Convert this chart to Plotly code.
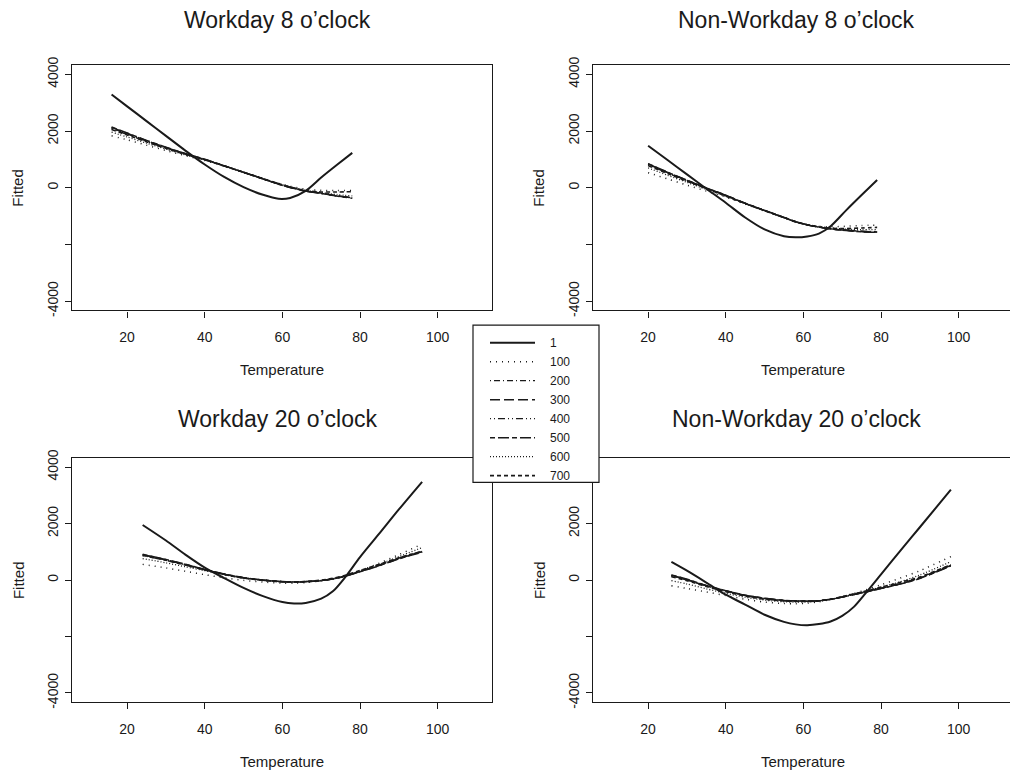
import plotly.graph_objects as go

# ---------------------------------------------------------------------------
# Data: fitted load vs. temperature, one curve per iteration count
# ---------------------------------------------------------------------------
SERIES = ["1", "100", "200", "300", "400", "500", "600", "700"]

PANEL_TITLES = [
    "Workday 8 o\u2019clock",
    "Non-Workday 8 o\u2019clock",
    "Workday 20 o\u2019clock",
    "Non-Workday 20 o\u2019clock",
]

Y_TICKS = [-4000, -2000, 0, 2000, 4000]
Y_TICK_TEXT = ["-4000", "", "0", "2000", "4000"]
X_TICKS = [20, 40, 60, 80, 100]

# Workday, 8 o'clock
wd8_temp = [16, 20, 25, 30, 35, 40, 45, 50, 55, 59, 62, 66, 70, 74, 78]
wd8_fit = [
    [3290, 2870, 2350, 1830, 1310, 820, 380, 20, -250, -390, -360, -110, 360, 800, 1230],
    [1830, 1690, 1500, 1310, 1130, 960, 760, 540, 320, 150, 50, -50, -90, -100, -100],
    [2100, 1900, 1650, 1410, 1190, 990, 770, 545, 315, 135, 15, -115, -200, -290, -360],
    [2130, 1920, 1660, 1420, 1200, 1000, 770, 540, 310, 130, 10, -120, -190, -280, -350],
    [2080, 1880, 1630, 1400, 1180, 985, 765, 540, 315, 140, 20, -110, -195, -285, -355],
    [2140, 1930, 1670, 1430, 1205, 1005, 775, 545, 310, 125, 5, -125, -200, -295, -370],
    [1960, 1790, 1570, 1360, 1160, 980, 770, 550, 330, 150, 30, -95, -170, -240, -290],
    [2050, 1860, 1620, 1390, 1180, 990, 770, 545, 320, 140, 25, -100, -150, -150, -140],
]

# Non-workday, 8 o'clock
nwd8_temp = [20, 25, 30, 35, 40, 45, 50, 55, 58, 61, 64, 67, 71, 75, 79]
nwd8_fit = [
    [1480, 975, 470, -35, -530, -1050, -1470, -1710, -1750, -1720, -1620, -1360, -800, -260, 270],
    [530, 310, 90, -120, -330, -580, -820, -1060, -1200, -1300, -1360, -1380, -1360, -1330, -1320],
    [830, 535, 255, -15, -275, -555, -805, -1050, -1200, -1310, -1395, -1455, -1505, -1545, -1565],
    [840, 540, 260, -10, -270, -550, -800, -1050, -1200, -1310, -1390, -1450, -1500, -1540, -1560],
    [810, 520, 245, -20, -280, -555, -805, -1055, -1205, -1315, -1390, -1445, -1490, -1530, -1550],
    [850, 550, 265, -5, -265, -545, -800, -1045, -1195, -1305, -1390, -1455, -1510, -1555, -1575],
    [700, 440, 190, -60, -300, -560, -810, -1060, -1200, -1300, -1370, -1420, -1460, -1480, -1480],
    [780, 500, 230, -30, -290, -560, -810, -1055, -1205, -1310, -1385, -1430, -1440, -1420, -1400],
]

# Workday, 20 o'clock
wd20_temp = [24, 30, 35, 40, 45, 50, 55, 60, 63, 66, 70, 73, 76, 80, 85, 90, 96]
wd20_fit = [
    [1950, 1400, 900, 440, 70, -280, -570, -780, -830, -810, -660, -400, 70, 810, 1650, 2500, 3480],
    [555, 430, 310, 190, 80, -10, -70, -110, -110, -90, -30, 40, 140, 330, 600, 900, 1270],
    [890, 710, 545, 365, 205, 75, -5, -60, -70, -60, -20, 45, 135, 305, 525, 765, 1010],
    [900, 720, 550, 370, 210, 80, 0, -60, -70, -60, -20, 40, 130, 300, 520, 760, 1000],
    [870, 700, 535, 360, 205, 80, 0, -55, -65, -55, -15, 45, 140, 310, 530, 775, 1020],
    [910, 730, 560, 375, 215, 85, 5, -55, -65, -55, -20, 40, 125, 290, 510, 750, 985],
    [760, 610, 470, 330, 190, 70, -10, -70, -80, -65, -20, 45, 140, 320, 560, 830, 1150],
    [870, 700, 530, 360, 200, 70, -10, -60, -65, -50, 0, 60, 160, 340, 560, 790, 1020],
]

# Non-workday, 20 o'clock
nwd20_temp = [26, 30, 35, 40, 45, 50, 55, 58, 61, 64, 67, 70, 73, 76, 80, 85, 90, 98]
nwd20_fit = [
    [640, 330, -90, -520, -870, -1230, -1480, -1570, -1600, -1560, -1470, -1270, -950, -470, 200, 1040, 1870, 3200],
    [-200, -300, -420, -550, -680, -780, -830, -840, -820, -770, -690, -590, -470, -350, -170, 70, 330, 830],
    [160, 10, -205, -385, -545, -655, -725, -745, -750, -735, -685, -605, -515, -425, -295, -135, 65, 510],
    [170, 20, -200, -380, -540, -650, -720, -740, -745, -730, -680, -600, -510, -420, -290, -130, 70, 520],
    [140, 0, -215, -390, -550, -660, -730, -750, -750, -735, -680, -600, -505, -410, -280, -115, 90, 545],
    [180, 30, -195, -375, -535, -645, -715, -735, -740, -730, -685, -605, -515, -430, -300, -140, 55, 500],
    [-20, -140, -310, -470, -610, -710, -770, -780, -770, -745, -690, -600, -500, -400, -250, -60, 180, 650],
    [120, -20, -230, -410, -570, -680, -740, -760, -760, -740, -680, -590, -490, -390, -250, -80, 110, 540],
]

PANELS = [
    (wd8_temp, wd8_fit),
    (nwd8_temp, nwd8_fit),
    (wd20_temp, wd20_fit),
    (nwd20_temp, nwd20_fit),
]

# ---------------------------------------------------------------------------
# Styling
# ---------------------------------------------------------------------------
W, H = 1010, 780
INK = "#1a1a1a"
FONT = "Liberation Sans, Arial, Helvetica, sans-serif"
NBSP = "\u00a0"

DASHES = [
    "solid",
    "1px,5px",
    "1px,3px,6px,3px",
    "10px,4px",
    "1px,3px,1px,3px,7px,3px",
    "5px,3px,11px,3px",
    "1px,2px",
    "4px,3px",
]
WIDTHS = [2.0, 1.5, 1.4, 1.5, 1.4, 1.5, 1.3, 1.6]


def fx(px):
    return px / W


def fy(px):
    return 1 - px / H


# panel boxes in pixels: (left, right, top, bottom); the right column runs
# off the page edge, so its box has no right-hand border
BOXES = [
    (72, 492, 58, 308),
    (593, 1010, 58, 308),
    (72, 492, 458, 707),
    (593, 1010, 458, 707),
]
PX_PER_DEG = 420 / 108.2
X_LO = 5.8
Y_RANGE = [-4330, 4330]

TITLE_POS = [(277, 12), (796, 12), (277, 419), (796, 419)]

# legend frame (pixels)
LEG_BOX = (473, 599, 323, 483)

fig = go.Figure()
layout = dict(
    width=W,
    height=H,
    margin=dict(l=0, r=0, t=0, b=0),
    paper_bgcolor="white",
    plot_bgcolor="white",
    font=dict(family=FONT, size=14, color=INK),
    showlegend=True,
    legend=dict(
        x=fx(LEG_BOX[0]),
        y=fy(LEG_BOX[2] + 3),
        xanchor="left",
        yanchor="top",
        bgcolor="rgba(0,0,0,0)",
        borderwidth=0,
        font=dict(family=FONT, size=12, color=INK),
        itemwidth=45,
        indentation=12,
        tracegroupgap=0,
    ),
    annotations=[],
    shapes=[
        dict(
            type="rect",
            xref="paper",
            yref="paper",
            x0=fx(LEG_BOX[0]),
            x1=fx(LEG_BOX[1]),
            y0=fy(LEG_BOX[3]),
            y1=fy(LEG_BOX[2]),
            fillcolor="white",
            line=dict(color=INK, width=1.2),
            layer="above",
        )
    ],
)

for i, ((temps, fits), box) in enumerate(zip(PANELS, BOXES)):
    n = i + 1
    xa = "x" if n == 1 else f"x{n}"
    ya = "y" if n == 1 else f"y{n}"
    left, right, top, bottom = box
    right_side = left > 500

    for k, name in enumerate(SERIES):
        fig.add_trace(
            go.Scatter(
                x=temps,
                y=fits[k],
                mode="lines",
                name=NBSP * 3 + name,
                legendgroup=name,
                showlegend=(i == 0),
                line=dict(color=INK, width=WIDTHS[k], dash=DASHES[k], shape="spline", smoothing=0.8),
                xaxis=xa,
                yaxis=ya,
                hoverinfo="skip",
            )
        )

    x_hi = X_LO + (right - left) / PX_PER_DEG
    axis_common = dict(
        showgrid=False,
        zeroline=False,
        showline=True,
        linecolor=INK,
        linewidth=1.2,
        ticks="outside",
        ticklen=6,
        tickwidth=1.2,
        tickcolor=INK,
        tickfont=dict(family=FONT, size=14, color=INK),
        fixedrange=True,
    )
    layout["xaxis" if n == 1 else f"xaxis{n}"] = dict(
        axis_common,
        domain=[fx(left), fx(right)],
        range=[X_LO, x_hi],
        tickvals=X_TICKS,
        ticklabelstandoff=8,
        mirror=True,
        anchor=ya,
    )
    layout["yaxis" if n == 1 else f"yaxis{n}"] = dict(
        axis_common,
        domain=[fy(bottom), fy(top)],
        range=Y_RANGE,
        tickvals=Y_TICKS,
        ticktext=Y_TICK_TEXT,
        tickangle=-90,
        ticklabelstandoff=1,
        side="left",
        mirror=False if right_side else True,
        anchor=xa,
    )

    cx = (left + left + 420) / 2
    cy = (top + bottom) / 2
    tx, ty = TITLE_POS[i]
    layout["annotations"] += [
        dict(
            text=PANEL_TITLES[i],
            x=fx(tx),
            y=fy(ty),
            xref="paper",
            yref="paper",
            xanchor="center",
            yanchor="middle",
            showarrow=False,
            font=dict(family=FONT, size=23, color=INK),
        ),
        dict(
            text="Temperature",
            x=fx(cx),
            y=fy(bottom + 60),
            xref="paper",
            yref="paper",
            xanchor="center",
            yanchor="middle",
            showarrow=False,
            font=dict(family=FONT, size=15, color=INK),
        ),
        dict(
            text="Fitted",
            x=fx(left - 54),
            y=fy(cy),
            xref="paper",
            yref="paper",
            xanchor="center",
            yanchor="middle",
            textangle=-90,
            showarrow=False,
            font=dict(family=FONT, size=15, color=INK),
        ),
    ]

fig.update_layout(**layout)
fig.write_html("out.html")
